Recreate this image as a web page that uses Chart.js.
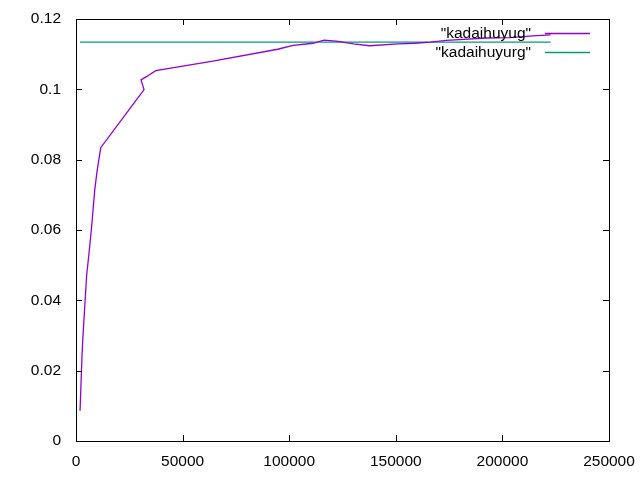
<!DOCTYPE html>
<html>
<head>
<meta charset="utf-8">
<script src="https://cdn.jsdelivr.net/npm/chart.js@4/dist/chart.umd.min.js"></script>
<style>
html,body{margin:0;padding:0;background:#fff;}
#wrap{width:640px;height:480px;}
</style>
</head>
<body>
<div id="wrap"><canvas id="c" width="640" height="480"></canvas></div>
<script>
const seriesNames = ['"kadaihuyug"', '"kadaihuyurg"'];
const seriesColors = ['#9400D3', '#009E73'];

const ugX = [1900, 2800, 3300, 4400, 5000, 6100, 7200, 8800, 9850, 11600, 31900, 30500, 33000, 37400, 64200, 94600, 101800, 111200, 116300, 122100, 130200, 137700, 151000, 158900, 166100, 173700, 192500, 203400, 214300, 222600];
const ugY = [0.0086, 0.0240, 0.0302, 0.0411, 0.0472, 0.0534, 0.0600, 0.0714, 0.0766, 0.0834, 0.0999, 0.1027, 0.1036, 0.1053, 0.1080, 0.1114, 0.1125, 0.1131, 0.1140, 0.1137, 0.1129, 0.1124, 0.1129, 0.1131, 0.1134, 0.1139, 0.1146, 0.1147, 0.1152, 0.1155];

const urgX = [1900, 222600];
const urgY = [0.1134, 0.1134];

const xTicks = [0, 50000, 100000, 150000, 200000, 250000];
const yTicks = [0, 0.02, 0.04, 0.06, 0.08, 0.1, 0.12];

const FONT = '"Liberation Sans", Arial, sans-serif';
const FSIZE = 15.5;

const frame = {
  id: 'frame',
  afterDatasetsDraw(chart) {
    const ctx = chart.ctx, a = chart.chartArea;
    const xs = chart.scales.x, ys = chart.scales.y;
    ctx.save();
    ctx.strokeStyle = '#000';
    ctx.lineWidth = 1;
    ctx.beginPath();
    const tl = 6;
    xTicks.forEach(v => {
      const p = Math.round(xs.getPixelForValue(v)) + 0.5;
      ctx.moveTo(p, a.bottom); ctx.lineTo(p, a.bottom - tl);
      ctx.moveTo(p, a.top); ctx.lineTo(p, a.top + tl);
    });
    yTicks.forEach(v => {
      const p = Math.round(ys.getPixelForValue(v)) + 0.5;
      ctx.moveTo(a.left, p); ctx.lineTo(a.left + tl, p);
      ctx.moveTo(a.right, p); ctx.lineTo(a.right - tl, p);
    });
    ctx.stroke();
    ctx.strokeRect(Math.round(a.left) + 0.5, Math.round(a.top) + 0.5, Math.round(a.right - a.left), Math.round(a.bottom - a.top));
    // key
    ctx.font = FSIZE + 'px ' + FONT;
    ctx.textAlign = 'right';
    ctx.textBaseline = 'middle';
    ctx.fillStyle = '#000';
    const rows = [33.5, 52.5];
    seriesNames.forEach((n, i) => {
      ctx.fillText(n, 531, rows[i]);
    });
    seriesNames.forEach((n, i) => {
      ctx.beginPath();
      ctx.lineWidth = 1.3;
      ctx.strokeStyle = seriesColors[i];
      ctx.moveTo(545, rows[i]); ctx.lineTo(590, rows[i]);
      ctx.stroke();
    });
    ctx.restore();
  }
};

new Chart(document.getElementById('c'), {
  type: 'scatter',
  data: {
    datasets: [
      { label: seriesNames[0], data: ugX.map((x, i) => ({x, y: ugY[i]})), showLine: true, borderColor: seriesColors[0], borderWidth: 1.3, pointRadius: 0, fill: false, tension: 0 },
      { label: seriesNames[1], data: urgX.map((x, i) => ({x, y: urgY[i]})), showLine: true, borderColor: seriesColors[1], borderWidth: 1.3, pointRadius: 0, fill: false, tension: 0 }
    ]
  },
  options: {
    responsive: false,
    animation: false,
    devicePixelRatio: 1,
    layout: { padding: { left: 0, top: 19, right: 31, bottom: 0 } },
    plugins: { legend: { display: false }, tooltip: { enabled: false } },
    scales: {
      x: {
        type: 'linear', min: 0, max: 250000,
        afterBuildTicks(s) { s.ticks = xTicks.map(v => ({value: v})); },
        afterFit(s) { s.height = 39; s.paddingLeft = 0; s.paddingRight = 0; },
        grid: { display: false, drawTicks: false },
        border: { display: false },
        ticks: { color: '#000', font: { family: FONT, size: FSIZE }, padding: 11, maxRotation: 0, autoSkip: false, callback: v => String(v) }
      },
      y: {
        type: 'linear', min: 0, max: 0.12,
        afterBuildTicks(s) { s.ticks = yTicks.map(v => ({value: v})); },
        afterFit(s) { s.width = 76; s.paddingTop = 0; s.paddingBottom = 0; },
        grid: { display: false, drawTicks: false },
        border: { display: false },
        ticks: { color: '#000', font: { family: FONT, size: FSIZE }, padding: 15, autoSkip: false, callback: v => String(+v.toFixed(2)) }
      }
    }
  },
  plugins: [frame]
});
</script>
</body>
</html>
